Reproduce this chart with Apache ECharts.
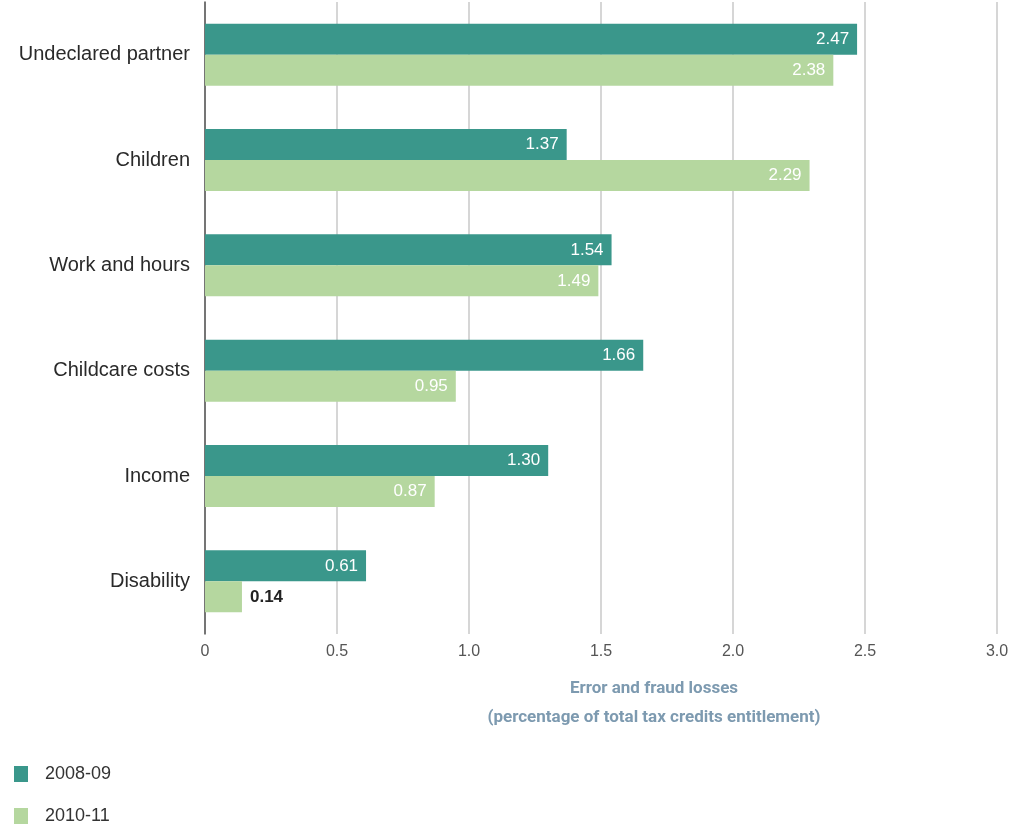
<!DOCTYPE html>
<html>
<head>
<meta charset="utf-8">
<script src="https://cdn.jsdelivr.net/npm/echarts@6/dist/echarts.min.js"></script>
<style>
  html, body { margin: 0; padding: 0; background: #fff; }
  #chart { width: 1025px; height: 825px; }
</style>
</head>
<body>
<div id="chart"></div>
<script>
// categories listed bottom to top (ECharts category y axis starts at bottom)
var categories = ["Disability", "Income", "Childcare costs", "Work and hours", "Children", "Undeclared partner"];
var seriesNames = ["2008-09", "2010-11"];
var values0809 = [0.61, 1.30, 1.66, 1.54, 1.37, 2.47];
var values1011 = [0.14, 0.87, 0.95, 1.49, 2.29, 2.38];
var tickLabels = ["0", "0.5", "1.0", "1.5", "2.0", "2.5", "3.0"];

var chart = echarts.init(document.getElementById("chart"));

var font = "Liberation Sans";
var labelIn = {
  show: true,
  position: "insideRight",
  distance: 8,
  color: "#fff",
  fontSize: 17,
  fontFamily: font,
  formatter: function (p) { return p.value.toFixed(2); }
};

function legendFor(name, top) {
  return {
    orient: "vertical",
    left: 14,
    top: top,
    padding: 0,
    itemWidth: 14,
    itemHeight: 16,
    icon: "rect",
    selectedMode: false,
    textStyle: { fontSize: 18, color: "#333", fontFamily: font, padding: [0, 0, 0, 12] },
    data: [name]
  };
}

var option = {
  animation: false,
  textStyle: { fontFamily: font },
  grid: { left: 205, right: 28, top: 2, bottom: 191, containLabel: false },
  legend: [legendFor(seriesNames[0], 765), legendFor(seriesNames[1], 807)],
  xAxis: {
    type: "value",
    min: 0,
    max: 3,
    interval: 0.5,
    name: "Error and fraud losses\n(percentage of total tax credits entitlement)",
    nameLocation: "middle",
    nameGap: 40,
    nameTextStyle: {
      color: "#7d9ab0", fontSize: 17, fontWeight: "bold", lineHeight: 29,
      fontFamily: "Roboto", padding: [0, 0, 0, 106]
    },
    axisLine: { show: false },
    axisTick: { show: false },
    splitLine: { show: true, lineStyle: { color: "#c8c8c8", width: 1.5 } },
    axisLabel: {
      color: "#555",
      fontSize: 16,
      margin: 10,
      formatter: function (v) { return tickLabels[Math.round(v * 2)]; }
    }
  },
  yAxis: {
    type: "category",
    data: categories,
    axisLine: { show: true, lineStyle: { color: "#555", width: 1.5 } },
    axisTick: { show: false },
    axisLabel: { color: "#2a2a2a", fontSize: 20, margin: 15 }
  },
  series: [
    {
      name: seriesNames[0],
      type: "bar",
      data: values0809,
      barWidth: 31,
      barGap: "0%",
      itemStyle: { color: "#3a978b" },
      label: labelIn
    },
    {
      name: seriesNames[1],
      type: "bar",
      data: values1011.map(function (v) {
        if (v < 0.3) {
          return {
            value: v,
            label: { position: "right", color: "#222", fontWeight: "bold", distance: 8 }
          };
        }
        return v;
      }),
      barWidth: 31,
      itemStyle: { color: "#b5d79f" },
      label: labelIn
    }
  ]
};

chart.setOption(option);
</script>
</body>
</html>
